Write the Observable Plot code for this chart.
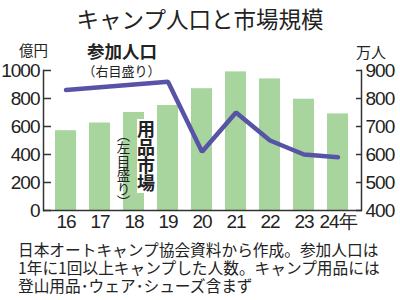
<!DOCTYPE html>
<html><head><meta charset="utf-8">
<script src="https://cdn.jsdelivr.net/npm/d3@7"></script>
<script src="https://cdn.jsdelivr.net/npm/@observablehq/plot@0.6"></script>
<style>
body{margin:0;background:#fff;}
#wrap{position:relative;width:400px;height:300px;overflow:hidden;font-family:'Noto Sans CJK JP',sans-serif;color:#222;}
.ov{position:absolute;line-height:1;white-space:nowrap;}
.vert{writing-mode:vertical-rl;}
.cap{position:absolute;left:18px;font-size:15.7px;line-height:18px;height:18px;white-space:nowrap;}
#chart svg text{letter-spacing:-1px;}
</style></head>
<body>
<div id="wrap">
  <div class="ov" style="left:0;width:400px;top:7px;text-align:center;font-size:22.5px;">キャンプ人口と市場規模</div>
  <div id="chart" style="position:absolute;left:0;top:36px;"></div>
  <div class="ov" style="left:19px;top:43px;font-size:14.5px;">億円</div>
  <div class="ov" style="left:356px;top:44px;font-size:15px;">万人</div>
  <div class="ov" style="left:122px;top:42px;font-size:17.5px;font-weight:bold;transform:translateX(-50%);">参加人口</div>
  <div class="ov" style="left:121.5px;top:64px;font-size:13px;transform:translateX(-50%);">（右目盛り）</div>
  <div class="ov vert" style="left:137px;top:119px;font-size:18px;font-weight:bold;background:#fff;padding:1px 0;">用品市場</div>
  <div class="ov vert" style="left:116px;top:128px;font-size:13.5px;">（左目盛り）</div>
  <div class="cap" style="top:241px;">日本オートキャンプ協会資料から作成。参加人口は</div>
  <div class="cap" style="top:259px;">1年に1回以上キャンプした人数。キャンプ用品には</div>
  <div class="cap" style="top:277px;">登山用品･ウェア･シューズ含まず</div>
</div>
<script>
const years = ["16","17","18","19","20","21","22","23","24"];
const xTickLabels = ["16","17","18","19","20","21","22","23","24年"];
const marketValues = [570, 625, 700, 750, 870, 990, 940, 795, 690];      // 億円 (left axis)
const populationValues = [830, 840, 850, 860, 610, 750, 650, 600, 590];   // 万人 (right axis)
const leftTicks = [0, 200, 400, 600, 800, 1000];
const rightTicks = [400, 500, 600, 700, 800, 900];

const rows = years.map((y, i) => ({year: y, market: marketValues[i], pop: populationValues[i]}));
// map right scale (400..900 万人) onto left scale (0..1000 億円)
const toLeft = v => (v - 400) * 2;
const fromLeft = v => v / 2 + 400;

const chart = Plot.plot({
  width: 400,
  height: 204,
  marginTop: 34,
  marginBottom: 30,
  marginLeft: 43,
  marginRight: 39,
  style: {fontFamily: "'Liberation Sans',Arial,sans-serif", fontSize: "19px", color: "#222", background: "transparent"},
  x: {domain: years, paddingInner: 0.371, paddingOuter: 0.229, axis: null},
  y: {domain: [0, 1000], axis: null},
  marks: [
    Plot.barY(rows, {x: "year", y: "market", fill: "#a7d59d"}),
    Plot.ruleY([0], {stroke: "#333", strokeWidth: 1.5}),
    Plot.frame({anchor: "left", stroke: "#333", strokeWidth: 1.5}),
    Plot.frame({anchor: "right", stroke: "#333", strokeWidth: 1.5}),
    Plot.axisY(leftTicks, {anchor: "left", tickSize: -8, text: null, label: null, stroke: "#333", strokeWidth: 1.5}),
    Plot.axisY(leftTicks, {anchor: "left", tickSize: 0, tickPadding: 4, label: null, tickFormat: d => String(d), fontSize: 19}),
    Plot.axisY(rightTicks.map(toLeft), {anchor: "right", tickSize: -6, text: null, label: null, stroke: "#333", strokeWidth: 1.5}),
    Plot.axisY(rightTicks.map(toLeft), {anchor: "right", tickSize: 0, tickPadding: 4, label: null, tickFormat: d => String(fromLeft(d)), fontSize: 19}),
    Plot.axisX({tickSize: 0, tickPadding: 4, label: null, tickFormat: d => xTickLabels[years.indexOf(d)], fontSize: 19}),
    Plot.line(rows, {x: "year", y: d => toLeft(d.pop), stroke: "#5753a6", strokeWidth: 4.5, strokeLinejoin: "miter"})
  ]
});
document.getElementById("chart").appendChild(chart);
</script>
</body></html>
